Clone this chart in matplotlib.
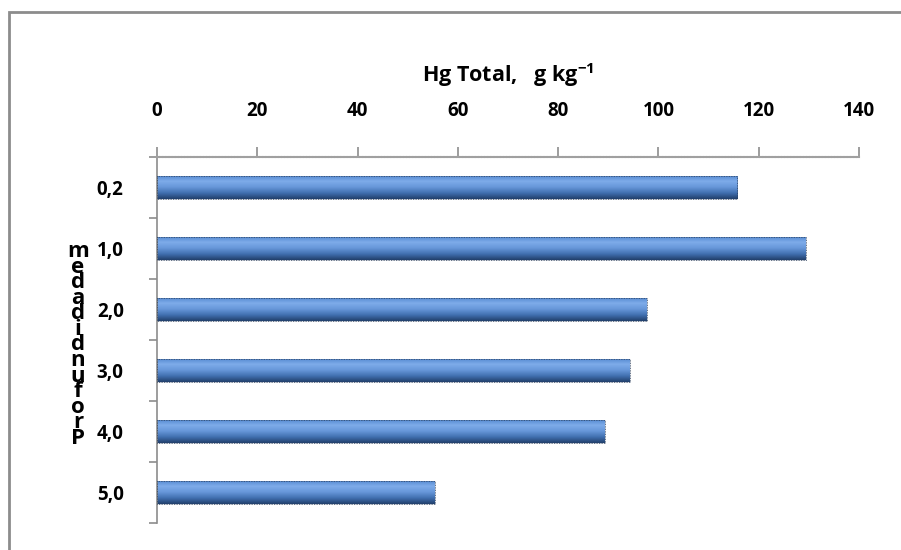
import numpy as np
import matplotlib
matplotlib.use("Agg")
import matplotlib.pyplot as plt
from matplotlib.patches import Rectangle
from matplotlib.colors import LinearSegmentedColormap

categories = ["0,2", "1,0", "2,0", "3,0", "4,0", "5,0"]
values = [115.7, 129.4, 97.7, 94.3, 89.3, 55.4]
xticks = [0, 20, 40, 60, 80, 100, 120, 140]
title = "Hg Total,   g kg"
ylabel_letters = ["m", "e", "d", "a", "d", "i", "d", "n", "u", "f", "o", "r", "P"]

plt.rcParams['font.family'] = ['Open Sans', 'DejaVu Sans']
plt.rcParams['mathtext.fontset'] = 'custom'
plt.rcParams['mathtext.bf'] = 'Open Sans:bold'
plt.rcParams['mathtext.rm'] = 'Open Sans:bold'

fig = plt.figure(figsize=(9.01, 5.5), dpi=100)
top_y = 1 - 11.5/550
fig.patches.append(Rectangle((8.5/901, -0.2), 1.2, top_y + 0.2, transform=fig.transFigure,
                             fill=False, edgecolor="#8c8c8c", linewidth=2.0))

ax = fig.add_axes([157/901, 1-523/550, 702/901, 366/550])
n = len(categories)
ypos = np.arange(n)
bh = 0.38
bars = ax.barh(ypos, values, height=bh, color="none", edgecolor="none")

cmap = LinearSegmentedColormap.from_list("g", ["#5287cf", "#7eacea", "#6797d9", "#4170b0", "#22406c"])
grad = np.linspace(0, 1, 64).reshape(-1, 1)
for b in bars:
    x0, y0 = b.get_x(), b.get_y()
    w, h = b.get_width(), b.get_height()
    im = ax.imshow(grad, cmap=cmap, aspect="auto", extent=[x0, x0 + w, y0 + h, y0],
                   origin="upper", zorder=2)
    im.set_clip_path(b)
    ax.add_patch(Rectangle((x0, y0), w, h, fill=False, edgecolor="#2b3f5c",
                           linewidth=0.6, linestyle=(0, (1, 1)), zorder=3))

ax.set_xlim(0, 140)
ax.set_ylim(n - 0.5, -0.5)
ax.xaxis.tick_top()
ax.set_xticks(xticks)
ax.set_xticklabels([str(t) for t in xticks], fontsize=13.5, fontweight="bold")
ax.tick_params(axis="x", direction="out", length=7, width=1.2, color="#8c8c8c", pad=19)

ax.set_yticks(np.arange(-0.5, n, 1.0))
ax.set_yticklabels([])
ax.set_yticks(ypos, minor=True)
ax.set_yticklabels(categories, minor=True, fontsize=13.5, fontweight="bold")
ax.tick_params(axis="y", which="major", direction="out", length=6, width=1.2, color="#8c8c8c")
ax.tick_params(axis="y", which="minor", length=0, pad=24)

for s in ["right", "bottom"]:
    ax.spines[s].set_visible(False)
ax.spines["top"].set_color("#a0a0a0")
ax.spines["top"].set_linewidth(1.5)
ax.spines["top"].set_linestyle((0, (1, 0.5)))
ax.spines["left"].set_color("#8c8c8c")
ax.spines["left"].set_linewidth(1.2)

fig.text(508/901, 1-75/550, title + r"$^{\mathbf{-1}}$", ha="center", va="center",
         fontsize=15.5, fontweight="bold")

fig.text(78/901, 1-345/550, "\n".join(ylabel_letters), ha="center", va="center",
         fontsize=16, fontweight="bold", linespacing=0.66)

fig.savefig("out.png", dpi=100)
